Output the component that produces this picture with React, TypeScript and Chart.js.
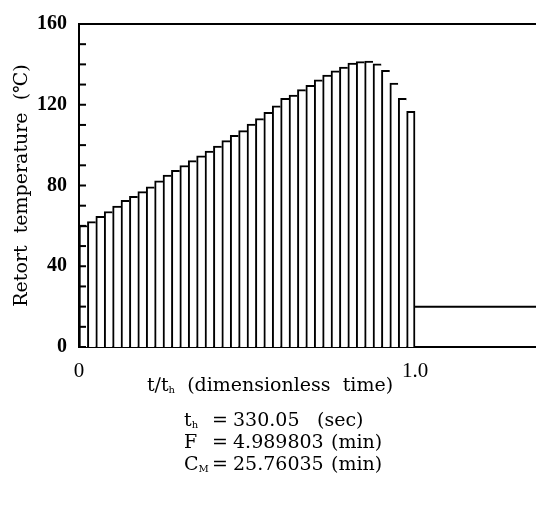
import React, { useEffect, useRef } from "react";
import { Chart, registerables } from "chart.js";

Chart.register(...registerables);

// dimensionless time at the middle of each heating step
const timeSteps = [
  0.0125, 0.0375, 0.0625, 0.0875, 0.1125, 0.1375, 0.1625, 0.1875, 0.2125, 0.2375,
  0.2625, 0.2875, 0.3125, 0.3375, 0.3625, 0.3875, 0.4125, 0.4375, 0.4625, 0.4875,
  0.5125, 0.5375, 0.5625, 0.5875, 0.6125, 0.6375, 0.6625, 0.6875, 0.7125, 0.7375,
  0.7625, 0.7875, 0.8125, 0.8375, 0.8625, 0.8875, 0.9125, 0.9375, 0.9625, 0.9875,
];
// retort temperature (°C) for each step
const retortTemps = [
  60.2, 62.1, 64.7, 67.1, 69.8, 72.6, 74.6, 77.0, 79.4, 82.3,
  85.1, 87.5, 89.9, 92.3, 94.7, 97.1, 99.5, 102.2, 104.8, 107.2,
  110.4, 113.1, 116.3, 119.5, 123.2, 124.8, 127.5, 129.6, 132.3, 134.7,
  136.8, 138.7, 140.7, 141.4, 141.6, 140.3, 137.1, 130.7, 123.2, 116.8,
];
// cooling phase
const coolingTimes = [1.0, 1.36];
const coolingTemps = [20, 20];

const xTickValues = [0, 1.0];
const yLabelEvery = 40;

const paramLines = [
  { name: "t", sub: "h", value: "330.05", unit: "(sec)" },
  { name: "F", sub: "", value: "4.989803", unit: "(min)" },
  { name: "C", sub: "M", value: "25.76035", unit: "(min)" },
];

const SERIF = "'Liberation Serif', 'DejaVu Serif', serif";
const WIDE_SERIF = "'DejaVu Serif', 'Liberation Serif', serif";

type Seg = { text: string; sub?: boolean };

function drawRich(ctx: CanvasRenderingContext2D, segs: Seg[], x: number, y: number, size: number, align: "left" | "center") {
  const main = `${size}px ${WIDE_SERIF}`;
  const small = `${Math.round(size * 0.55)}px ${WIDE_SERIF}`;
  let total = 0;
  for (const s of segs) {
    ctx.font = s.sub ? small : main;
    total += ctx.measureText(s.text).width;
  }
  let cx = align === "center" ? x - total / 2 : x;
  ctx.textAlign = "left";
  ctx.textBaseline = "alphabetic";
  for (const s of segs) {
    ctx.font = s.sub ? small : main;
    ctx.fillText(s.text, cx, s.sub ? y + 2 : y);
    cx += ctx.measureText(s.text).width;
  }
}

const decorPlugin = {
  id: "decor",
  afterDraw(chart: any) {
    const ctx: CanvasRenderingContext2D = chart.ctx;
    const { left, right, top, bottom } = chart.chartArea;
    const yScale = chart.scales.y;
    ctx.save();
    ctx.strokeStyle = "#000";
    ctx.fillStyle = "#000";
    ctx.lineWidth = 2;
    // top frame line
    ctx.beginPath();
    ctx.moveTo(left - 1, top);
    ctx.lineTo(right, top);
    ctx.stroke();
    // inward y ticks
    for (const t of yScale.ticks) {
      const py = yScale.getPixelForValue(t.value);
      ctx.beginPath();
      ctx.moveTo(left, py);
      ctx.lineTo(left + 7, py);
      ctx.stroke();
    }
    // x axis title
    drawRich(
      ctx,
      [{ text: "t" }, { text: "∕" }, { text: "t" }, { text: "h", sub: true }, { text: "  (dimensionless  time)" }],
      270,
      bottom + 44,
      19,
      "center"
    );
    // parameters
    const baseY = [bottom + 79, bottom + 101, bottom + 123];
    paramLines.forEach((p, i) => {
      drawRich(ctx, [{ text: p.name }, { text: p.sub, sub: true }], 184, baseY[i], 19, "left");
      ctx.font = `19px ${WIDE_SERIF}`;
      ctx.textAlign = "left";
      ctx.fillText("=", 212, baseY[i]);
      ctx.fillText(p.value, 233, baseY[i]);
      ctx.fillText(p.unit, p.unit === "(sec)" ? 317 : 331, baseY[i]);
    });
    ctx.restore();
  },
};

export default function App() {
  const ref = useRef<HTMLCanvasElement | null>(null);
  useEffect(() => {
    document.body.style.margin = "0";
    if (!ref.current) return;
    const chart = new Chart(ref.current, {
      type: "bar",
      data: {
        datasets: [
          {
            type: "bar",
            data: timeSteps.map((t, i) => ({ x: t, y: retortTemps[i] })),
            backgroundColor: "#fff",
            borderColor: "#000",
            borderWidth: (c: any) => ({ top: 2, left: 2, bottom: 0, right: c.dataIndex === timeSteps.length - 1 ? 2 : 0 }),
            borderSkipped: false,
            barPercentage: 1,
            categoryPercentage: 1,
          } as any,
          {
            type: "line",
            data: coolingTimes.map((t, i) => ({ x: t, y: coolingTemps[i] })),
            borderColor: "#000",
            borderWidth: 2,
            pointRadius: 0,
            fill: false,
          } as any,
        ],
      },
      options: {
        responsive: false,
        animation: false,
        devicePixelRatio: 1,
        layout: { padding: { top: 14, right: 0, bottom: 0, left: 0 } },
        plugins: { legend: { display: false }, tooltip: { enabled: false } },
        scales: {
          x: {
            type: "linear",
            min: 0,
            max: 1.36,
            offset: false,
            grid: { display: false, drawTicks: false, offset: false },
            border: { display: true, color: "#000", width: 2 },
            afterBuildTicks: (scale: any) => {
              scale.ticks = xTickValues.map((v) => ({ value: v }));
            },
            afterFit: (scale: any) => {
              scale.height = 169;
            },
            ticks: {
              padding: 12,
              color: "#000",
              font: { family: SERIF, size: 21 },
              callback: (v: any) => (Number(v) === 0 ? "0" : Number(v).toFixed(1)),
              maxRotation: 0,
              autoSkip: false,
            },
          },
          y: {
            type: "linear",
            min: 0,
            max: 160,
            grid: { display: false, drawTicks: false },
            border: { display: true, color: "#000", width: 2 },
            afterFit: (scale: any) => {
              scale.width = 79;
            },
            ticks: {
              stepSize: 10,
              padding: 12,
              color: "#000",
              font: { family: SERIF, size: 20, weight: "bold" },
              callback: (v: any) => (Number(v) % yLabelEvery === 0 ? String(v) : ""),
              autoSkip: false,
            },
            title: {
              display: true,
              text: "Retort  temperature  (℃)",
              color: "#000",
              font: { family: WIDE_SERIF, size: 19 },
              padding: { top: 11, bottom: 0 },
            },
          },
        },
      },
      plugins: [decorPlugin],
    } as any);
    return () => chart.destroy();
  }, []);
  return <canvas ref={ref} width={536} height={516} style={{ display: "block", width: 536, height: 516 }} />;
}
